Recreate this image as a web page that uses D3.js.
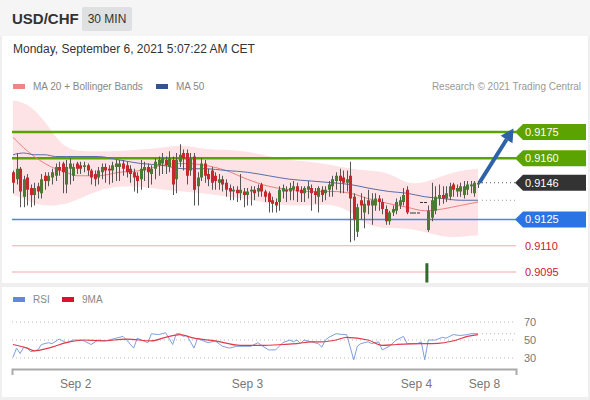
<!DOCTYPE html>
<html>
<head>
<meta charset="utf-8">
<script src="https://cdn.jsdelivr.net/npm/d3@7"></script>
<style>
  body { margin: 0; background: #efefef; font-family: "Liberation Sans", Arial, sans-serif; }
  svg { display: block; }
</style>
</head>
<body>
<svg id="chart" width="590" height="400"></svg>
<script>
// 30 min candles, [open, high, low, close]
const candles = [
  [0.9152,0.9153,0.9140,0.9146],[0.9148,0.9163,0.9145,0.9154],[0.9154,0.9155,0.9132,0.9141],[0.9138,0.9150,0.9132,0.9148],
  [0.9149,0.9151,0.9133,0.9142],[0.9143,0.9145,0.9132,0.9139],[0.9139,0.9146,0.9133,0.9143],[0.9144,0.9146,0.9137,0.9141],
  [0.9140,0.9151,0.9137,0.9148],[0.9150,0.9152,0.9142,0.9147],[0.9147,0.9152,0.9144,0.9150],[0.9149,0.9154,0.9145,0.9152],
  [0.9150,0.9157,0.9147,0.9155],[0.9155,0.9158,0.9150,0.9153],[0.9157,0.9158,0.9140,0.9152],[0.9145,0.9159,0.9140,0.9155],
  [0.9154,0.9160,0.9145,0.9157],[0.9150,0.9157,0.9147,0.9155],[0.9157,0.9158,0.9151,0.9154],[0.9156,0.9158,0.9151,0.9154],
  [0.9155,0.9158,0.9152,0.9156],[0.9156,0.9157,0.9150,0.9153],[0.9153,0.9154,0.9145,0.9149],[0.9151,0.9153,0.9144,0.9148],
  [0.9149,0.9155,0.9145,0.9153],[0.9152,0.9157,0.9148,0.9155],[0.9155,0.9157,0.9146,0.9153],[0.9154,0.9156,0.9145,0.9153],
  [0.9153,0.9158,0.9146,0.9156],[0.9155,0.9159,0.9147,0.9157],[0.9155,0.9159,0.9147,0.9157],[0.9157,0.9159,0.9150,0.9154],
  [0.9156,0.9158,0.9149,0.9152],[0.9154,0.9156,0.9146,0.9151],[0.9152,0.9154,0.9141,0.9149],[0.9150,0.9152,0.9140,0.9147],
  [0.9148,0.9159,0.9142,0.9154],[0.9153,0.9158,0.9147,0.9155],[0.9155,0.9157,0.9143,0.9152],[0.9151,0.9156,0.9145,0.9154],
  [0.9154,0.9160,0.9148,0.9158],[0.9156,0.9161,0.9150,0.9159],[0.9157,0.9163,0.9151,0.9160],[0.9159,0.9161,0.9151,0.9156],
  [0.9155,0.9164,0.9152,0.9160],[0.9159,0.9161,0.9139,0.9145],[0.9148,0.9163,0.9140,0.9159],[0.9158,0.9168,0.9155,0.9162],
  [0.9163,0.9165,0.9153,0.9160],[0.9163,0.9165,0.9145,0.9150],[0.9153,0.9163,0.9150,0.9160],[0.9161,0.9163,0.9133,0.9142],
  [0.9144,0.9152,0.9133,0.9149],[0.9149,0.9160,0.9147,0.9157],[0.9157,0.9159,0.9146,0.9150],[0.9151,0.9154,0.9144,0.9148],
  [0.9153,0.9155,0.9142,0.9146],[0.9150,0.9152,0.9142,0.9147],[0.9146,0.9151,0.9142,0.9148],[0.9148,0.9150,0.9141,0.9145],
  [0.9146,0.9148,0.9138,0.9142],[0.9143,0.9145,0.9136,0.9141],[0.9141,0.9144,0.9136,0.9142],[0.9142,0.9144,0.9135,0.9140],
  [0.9140,0.9151,0.9136,0.9142],[0.9141,0.9143,0.9132,0.9139],[0.9139,0.9143,0.9133,0.9141],[0.9141,0.9144,0.9133,0.9142],
  [0.9142,0.9144,0.9136,0.9140],[0.9141,0.9145,0.9138,0.9143],[0.9145,0.9146,0.9138,0.9141],[0.9141,0.9142,0.9135,0.9138],
  [0.9140,0.9141,0.9129,0.9135],[0.9136,0.9138,0.9129,0.9134],[0.9135,0.9137,0.9129,0.9133],[0.9135,0.9144,0.9130,0.9142],
  [0.9141,0.9145,0.9137,0.9143],[0.9142,0.9144,0.9135,0.9141],[0.9141,0.9146,0.9136,0.9143],[0.9142,0.9147,0.9136,0.9144],
  [0.9144,0.9146,0.9135,0.9141],[0.9142,0.9144,0.9135,0.9140],[0.9140,0.9144,0.9135,0.9143],[0.9142,0.9147,0.9137,0.9144],
  [0.9143,0.9145,0.9130,0.9140],[0.9141,0.9143,0.9134,0.9139],[0.9138,0.9144,0.9129,0.9143],[0.9142,0.9144,0.9135,0.9139],
  [0.9140,0.9144,0.9136,0.9142],[0.9142,0.9147,0.9138,0.9145],[0.9144,0.9150,0.9138,0.9148],[0.9147,0.9152,0.9142,0.9150],
  [0.9150,0.9154,0.9140,0.9147],[0.9149,0.9153,0.9140,0.9146],[0.9146,0.9153,0.9141,0.9148],[0.9150,0.9158,0.9112,0.9137],
  [0.9138,0.9140,0.9113,0.9125],[0.9118,0.9134,0.9115,0.9132],[0.9136,0.9140,0.9125,0.9133],[0.9129,0.9138,0.9120,0.9134],
  [0.9136,0.9142,0.9128,0.9133],[0.9133,0.9140,0.9122,0.9136],[0.9133,0.9140,0.9130,0.9137],[0.9137,0.9139,0.9130,0.9135],
  [0.9135,0.9137,0.9128,0.9131],[0.9131,0.9133,0.9122,0.9124],[0.9124,0.9130,0.9122,0.9129],[0.9129,0.9133,0.9127,0.9131],
  [0.9130,0.9137,0.9128,0.9135],[0.9133,0.9138,0.9131,0.9136],[0.9135,0.9143,0.9133,0.9139],[0.9142,0.9144,0.9128,0.9129],
  [0.9129,0.9129,0.9129,0.9129],[0.9129,0.9129,0.9129,0.9129],[0.9129,0.9129,0.9129,0.9129],[0.9135,0.9135,0.9135,0.9135],
  [0.9135,0.9135,0.9135,0.9135],[0.9119,0.9133,0.9118,0.9130],[0.9126,0.9146,0.9124,0.9136],[0.9130,0.9144,0.9128,0.9138],
  [0.9137,0.9145,0.9133,0.9139],[0.9139,0.9144,0.9134,0.9137],[0.9137,0.9144,0.9135,0.9140],[0.9138,0.9146,0.9136,0.9144],
  [0.9145,0.9146,0.9138,0.9142],[0.9141,0.9145,0.9138,0.9143],[0.9141,0.9146,0.9138,0.9144],[0.9139,0.9147,0.9137,0.9144],
  [0.9142,0.9147,0.9139,0.9145],[0.9144,0.9147,0.9140,0.9145],[0.9140,0.9147,0.9138,0.9146],[0.9145,0.9147,0.9143,0.9146]
];

// indicator samples (candle index -> value)
const indIdx  = [0,3,6,9,12,15,18,24,30,36,42,48,54,60,66,72,78,84,90,95,100,106,111,116,121,126,131];
const bbUpper = [0.9193,0.9192,0.9188,0.9181,0.9172,0.9166,0.9164,0.9164,0.9164,0.9165,0.9166,0.9168,0.9165,0.9165,0.9164,0.9161,0.9159,0.9158,0.9156,0.9154,0.9153,0.9152,0.9145,0.9146,0.9150,0.9153,0.9154];
const bbLower = [0.9139,0.9137,0.9134,0.9133,0.9133,0.9134,0.9136,0.9142,0.9144,0.9144,0.9142,0.9141,0.9140,0.9138,0.9137,0.9134,0.9133,0.9133,0.9134,0.9130,0.9121,0.9120,0.9120,0.9118,0.9115,0.9115,0.9116];
const ma20    = [0.9172,0.9166,0.9161,0.9157,0.9154,0.9152,0.9150,0.9150,0.9152,0.9153,0.9156,0.9157,0.9156,0.9153,0.9148,0.9144,0.9142,0.9141,0.9141,0.9140,0.9137,0.9134,0.9132,0.9130,0.9131,0.9133,0.9135];
const ma50    = [0.9162,0.9163,0.9162,0.9162,0.9161,0.9161,0.9161,0.9161,0.9159,0.9157,0.9156,0.9154,0.9154,0.9153,0.9152,0.9150,0.9148,0.9147,0.9146,0.9145,0.9143,0.9141,0.9140,0.9138,0.9137,0.9136,0.9136];

const rsi = [[0,31],[1,41],[2,35],[3,42],[4,41],[5,37],[7,39],[8,45],[10,47],[11,46],[13,51],[15,47],[17,50],[19,50],[20,49],
  [22,45],[24,50],[26,49],[29,52],[31,54],[32,50],[34,41],[35,52],[38,47],[39,57],[41,56],[43,58],[45,45],[46,57],[47,57],
  [48,54],[49,55],[51,41],[52,52],[53,50],[55,47],[57,49],[59,43],[61,41],[63,43],[65,43],[67,43],[69,47],[70,44],[72,39],
  [74,39],[76,47],[78,50],[79,48],[80,50],[81,46],[82,50],[84,48],[86,46],[87,42],[88,50],[89,53],[91,57],[93,56],[94,56],
  [96,28],[97,43],[98,46],[100,48],[101,46],[103,48],[104,39],[106,43],[108,50],[110,54],[111,46],[113,46],[114,46],[115,48],
  [116,28],[117,50],[119,50],[121,53],[122,52],[124,56],[126,55],[128,56],[129,57],[131,57]];
const rsiMa = [[0,45],[4,41],[6,38],[10,41],[15,47],[20,50],[25,49],[32,51],[39,49],[43,53],[47,56],[51,52],[57,49],[64,44],
  [70,44],[76,45],[80,46],[84,48],[87,48],[91,50],[94,53],[100,50],[104,44],[108,45],[115,46],[118,46],[125,50],[128,54],[131,56]];
const rsiLevels = [70, 50, 30];

const levelValues = [0.9175, 0.9160, 0.9146, 0.9125, 0.9110, 0.9095];
const levelKinds  = ["res", "res", "last", "sup", "tgt", "tgt"];

const dayTicks  = [17.5, 65.9, 113.5, 132.7];
const dayLabels = ["Sep 2", "Sep 3", "Sep 4", "Sep 8"];

const arrowFrom = [131.4, 0.9146];
const arrowTo   = [141.0, 0.9177];
const eventMark = [116.6, 0.9100, 0.9089];

const svg = d3.select("#chart");
const FONT = "Liberation Sans, Arial, sans-serif";

// frames
svg.append("rect").attr("width", 590).attr("height", 400).attr("fill", "#efefef");
svg.append("rect").attr("width", 590).attr("height", 36).attr("fill", "#f5f5f5");
svg.append("rect").attr("x", 2).attr("y", 36).attr("width", 586).attr("height", 247).attr("fill", "#fff");
svg.append("rect").attr("x", 2).attr("y", 287).attr("width", 586).attr("height", 110).attr("fill", "#fff");

// header
svg.append("text").attr("x", 12).attr("y", 24).attr("font-size", 15).attr("font-weight", "bold")
  .attr("fill", "#333").attr("font-family", FONT).text("USD/CHF");
svg.append("rect").attr("x", 82).attr("y", 7).attr("width", 50).attr("height", 24).attr("rx", 2).attr("fill", "#dfe0e2");
svg.append("text").attr("x", 107).attr("y", 23).attr("text-anchor", "middle").attr("font-size", 12)
  .attr("fill", "#333").attr("font-family", FONT).text("30 MIN");
svg.append("text").attr("x", 13).attr("y", 53).attr("font-size", 12)
  .attr("fill", "#333").attr("font-family", FONT).text("Monday, September 6, 2021 5:07:22 AM CET");

// legends
function legend(g, items, ly) {
  items.forEach(it => {
    g.append("rect").attr("x", it.x).attr("y", ly - 6).attr("width", 12).attr("height", 5).attr("fill", it.c);
    g.append("text").attr("x", it.x + 20).attr("y", ly).attr("font-size", 10).attr("fill", "#888")
      .attr("font-family", FONT).text(it.t);
  });
}
legend(svg, [{x: 13, c: "#f08585", t: "MA 20 + Bollinger Bands"}, {x: 156, c: "#34548f", t: "MA 50"}], 90);
legend(svg, [{x: 13, c: "#5f8ad8", t: "RSI"}, {x: 62, c: "#e0102a", t: "9MA"}], 303);
svg.append("text").attr("x", 581).attr("y", 90).attr("text-anchor", "end").attr("font-size", 10)
  .attr("fill", "#999").attr("font-family", FONT).text("Research \u00a9 2021 Trading Central");

// scales
const x = d3.scaleLinear().domain([0, candles.length - 1]).range([13, 478]);
const y = d3.scaleLinear().domain([0.9095, 0.9175]).range([272, 132]);
const yR = d3.scaleLinear().domain([30, 70]).range([358, 322]);
const xL = 12, xR = 516;

const plot = svg.append("g");

// bollinger band
const band = d3.area()
  .x((d, k) => x(indIdx[k]))
  .y0((d, k) => y(bbLower[k]))
  .y1(d => y(d))
  .curve(d3.curveBasis);
plot.append("path").datum(bbUpper).attr("d", band).attr("fill", "#fde3e5");

// level lines
const levelStyle = {
  res:  {line: "#5ba300", w: 2.5, box: "#5ba300"},
  last: {line: null, w: 0, box: "#333333"},
  sup:  {line: "#4a86e8", w: 1.5, box: "#2b74e3"},
  tgt:  {line: "#f5a9a9", w: 1, box: null}
};
levelValues.forEach((v, k) => {
  const s = levelStyle[levelKinds[k]];
  if (s.line) {
    plot.append("line").attr("x1", xL).attr("x2", xR).attr("y1", y(v)).attr("y2", y(v))
      .attr("stroke", s.line).attr("stroke-width", s.w);
  }
});

// moving averages
const maLine = d3.line().x((d, k) => x(indIdx[k])).y(d => y(d)).curve(d3.curveMonotoneX);
plot.append("path").datum(ma20).attr("d", maLine).attr("fill", "none").attr("stroke", "#ec8080").attr("stroke-width", 1);
plot.append("path").datum(ma50).attr("d", maLine).attr("fill", "none").attr("stroke", "#5a6ea8").attr("stroke-width", 1);

// candles
const cx = i => Math.round(x(i));
plot.selectAll("line.wick").data(candles).join("line")
  .attr("class", "wick")
  .attr("x1", (d, i) => cx(i) + 0.5).attr("x2", (d, i) => cx(i) + 0.5)
  .attr("y1", d => y(d[1])).attr("y2", d => y(d[2]))
  .attr("stroke", "#555").attr("stroke-width", 1);
plot.selectAll("rect.body").data(candles).join("rect")
  .attr("class", "body")
  .attr("x", (d, i) => cx(i) - 1)
  .attr("width", 3)
  .attr("y", d => y(Math.max(d[0], d[3])))
  .attr("height", d => Math.max(1, Math.abs(y(d[0]) - y(d[3]))))
  .attr("fill", d => d[3] > d[0] ? "#4b7a35" : d[3] < d[0] ? "#c8282c" : "#333");

// event marker
plot.append("rect").attr("x", x(eventMark[0]) - 1.5).attr("width", 3)
  .attr("y", y(eventMark[1])).attr("height", y(eventMark[2]) - y(eventMark[1]))
  .attr("fill", "#2f6a2c");

// dotted extensions
const last = candles[candles.length - 1];
plot.append("line").attr("x1", 482).attr("x2", xR).attr("y1", y(last[3])).attr("y2", y(last[3]))
  .attr("stroke", "#555").attr("stroke-dasharray", "1,3");
plot.append("line").attr("x1", 482).attr("x2", xR).attr("y1", y(ma50[ma50.length - 1])).attr("y2", y(ma50[ma50.length - 1]))
  .attr("stroke", "#999").attr("stroke-dasharray", "1,3");

// arrow
{
  const x1 = x(arrowFrom[0]), y1 = y(arrowFrom[1]);
  const x2 = x(arrowTo[0]), y2 = y(arrowTo[1]);
  const a = Math.atan2(y2 - y1, x2 - x1);
  const hl = 13, hw = 7;
  const bx = x2 - hl * Math.cos(a), by = y2 - hl * Math.sin(a);
  plot.append("line").attr("x1", x1).attr("y1", y1).attr("x2", bx).attr("y2", by)
    .attr("stroke", "#2d62a6").attr("stroke-width", 4);
  plot.append("path")
    .attr("d", `M${x2},${y2}L${bx + hw * Math.sin(a)},${by - hw * Math.cos(a)}L${bx - hw * Math.sin(a)},${by + hw * Math.cos(a)}Z`)
    .attr("fill", "#2d62a6");
}

// level labels
levelValues.forEach((v, k) => {
  const s = levelStyle[levelKinds[k]];
  const ly = y(v);
  if (s.box) {
    plot.append("path")
      .attr("d", `M515,${ly}L523,${ly - 8}L586,${ly - 8}L586,${ly + 8}L523,${ly + 8}Z`)
      .attr("fill", s.box);
  }
  plot.append("text").attr("x", 525).attr("y", ly).attr("dy", "0.35em")
    .attr("font-size", 11).attr("font-family", FONT)
    .attr("fill", s.box ? "#fff" : "#d0161e").text(v.toFixed(4));
});

// RSI panel
const rsiG = svg.append("g");
rsiLevels.forEach(v => {
  rsiG.append("line").attr("x1", xL).attr("x2", xR).attr("y1", yR(v)).attr("y2", yR(v))
    .attr("stroke", "#bbb").attr("stroke-dasharray", "1,3");
  rsiG.append("text").attr("x", 524).attr("y", yR(v)).attr("dy", "0.35em").attr("font-size", 11)
    .attr("fill", "#777").attr("font-family", FONT).text(v);
});
const lastRsi = rsi[rsi.length - 1][1];
rsiG.append("line").attr("x1", 482).attr("x2", xR).attr("y1", yR(lastRsi)).attr("y2", yR(lastRsi))
  .attr("stroke", "#bbb").attr("stroke-dasharray", "1,3");
const rLine = d3.line().x(d => x(d[0])).y(d => yR(d[1]));
rsiG.append("path").datum(rsi).attr("d", rLine).attr("fill", "none").attr("stroke", "#7d9fe0").attr("stroke-width", 1);
rsiG.append("path").datum(rsiMa).attr("d", rLine.curve(d3.curveMonotoneX)).attr("fill", "none")
  .attr("stroke", "#e23a4c").attr("stroke-width", 1.2);

// time axis
const xAxisScale = x.copy().domain([x.invert(xL), x.invert(xR)]).range([xL, xR]);
const axis = svg.append("g").attr("transform", "translate(0,369)")
  .call(d3.axisBottom(xAxisScale).tickValues(dayTicks).tickFormat((d, k) => dayLabels[k])
    .tickSizeInner(0).tickSizeOuter(6).tickPadding(10));
axis.select(".domain").attr("stroke", "#aaa").attr("stroke-width", 2);
axis.selectAll("text").attr("font-size", 12).attr("fill", "#777").attr("font-family", FONT);
</script>
</body>
</html>
